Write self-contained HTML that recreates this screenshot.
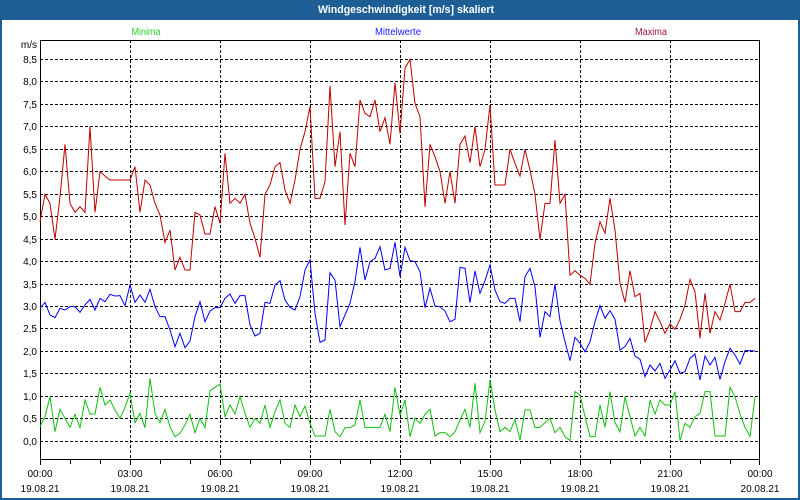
<!DOCTYPE html>
<html><head><meta charset="utf-8"><style>
html,body{margin:0;padding:0;background:#fff;}
svg{display:block;}
text{font-family:"Liberation Sans",sans-serif;}
</style></head><body>
<svg width="800" height="500" viewBox="0 0 800 500" xmlns="http://www.w3.org/2000/svg">
<rect x="0" y="0" width="800" height="500" fill="#1d5e95"/>
<rect x="2" y="20" width="796" height="478" fill="#ffffff"/>
<text x="406" y="13" fill="#ffffff" font-size="11" font-weight="bold" text-anchor="middle" textLength="176" lengthAdjust="spacingAndGlyphs">Windgeschwindigkeit [m/s] skaliert</text>
<text x="146" y="35" fill="#2ec82e" font-size="10" text-anchor="middle" textLength="29" lengthAdjust="spacingAndGlyphs">Minima</text>
<text x="398" y="35" fill="#1a1aff" font-size="10" text-anchor="middle" textLength="46" lengthAdjust="spacingAndGlyphs">Mittelwerte</text>
<text x="651" y="35" fill="#a0104a" font-size="10" text-anchor="middle" textLength="32" lengthAdjust="spacingAndGlyphs">Maxima</text>

<g stroke="#000" stroke-width="1" stroke-dasharray="3,2" shape-rendering="crispEdges" fill="none">
<path d="M40 59.5H760M40 81.5H760M40 104.5H760M40 126.5H760M40 149.5H760M40 171.5H760M40 194.5H760M40 216.5H760M40 239.5H760M40 261.5H760M40 284.5H760M40 306.5H760M40 328.5H760M40 351.5H760M40 373.5H760M40 396.5H760M40 418.5H760M40 441.5H760"/>
<path d="M130.5 40V460M220.5 40V460M310.5 40V460M400.5 40V460M490.5 40V460M580.5 40V460M670.5 40V460"/>
</g>
<rect x="40.5" y="40.5" width="719" height="419" fill="none" stroke="#000" stroke-width="1" shape-rendering="crispEdges"/>
<path d="M40.5 460V465M70.5 460V464M100.5 460V464M130.5 460V465M160.5 460V464M190.5 460V464M220.5 460V465M250.5 460V464M280.5 460V464M310.5 460V465M340.5 460V464M370.5 460V464M400.5 460V465M430.5 460V464M460.5 460V464M490.5 460V465M520.5 460V464M550.5 460V464M580.5 460V465M610.5 460V464M640.5 460V464M670.5 460V465M700.5 460V464M730.5 460V464M759.5 460V465" stroke="#000" stroke-width="1" shape-rendering="crispEdges"/>

<g font-size="10" fill="#000" text-anchor="end">
<text x="37" y="48">m/s</text>
<text x="37" y="63">8,5</text>
<text x="37" y="85">8,0</text>
<text x="37" y="108">7,5</text>
<text x="37" y="130">7,0</text>
<text x="37" y="153">6,5</text>
<text x="37" y="175">6,0</text>
<text x="37" y="198">5,5</text>
<text x="37" y="220">5,0</text>
<text x="37" y="243">4,5</text>
<text x="37" y="265">4,0</text>
<text x="37" y="288">3,5</text>
<text x="37" y="310">3,0</text>
<text x="37" y="332">2,5</text>
<text x="37" y="355">2,0</text>
<text x="37" y="377">1,5</text>
<text x="37" y="400">1,0</text>
<text x="37" y="422">0,5</text>
<text x="37" y="445">0,0</text>
</g>
<g font-size="10" fill="#000" text-anchor="middle">
<text x="40" y="477">00:00</text><text x="40" y="492">19.08.21</text>
<text x="130" y="477">03:00</text><text x="130" y="492">19.08.21</text>
<text x="220" y="477">06:00</text><text x="220" y="492">19.08.21</text>
<text x="310" y="477">09:00</text><text x="310" y="492">19.08.21</text>
<text x="400" y="477">12:00</text><text x="400" y="492">19.08.21</text>
<text x="490" y="477">15:00</text><text x="490" y="492">19.08.21</text>
<text x="580" y="477">18:00</text><text x="580" y="492">19.08.21</text>
<text x="670" y="477">21:00</text><text x="670" y="492">19.08.21</text>
<text x="760" y="477">00:00</text><text x="760" y="492">20.08.21</text>
</g>

<g transform="matrix(5,0,0,0.333333,40,50)" fill="none" stroke-width="1">
<polyline vector-effect="non-scaling-stroke" stroke="#c00000" points="0,515 1,433 2,460 3,568 4,440 5,283 6,460 7,487 8,470 9,487 10,230 11,487 12,365 13,378 14,390 15,390 16,390 17,390 18,390 19,350 20,487 21,390 22,405 23,460 24,495 25,578 26,540 27,660 28,622 29,660 30,660 31,487 32,495 33,552 34,552 35,470 36,520 37,310 38,460 39,445 40,460 41,433 42,520 43,565 44,622 45,433 46,405 47,350 48,338 49,420 50,460 51,390 52,298 53,245 54,170 55,445 56,445 57,395 58,108 59,350 60,245 61,525 62,310 63,350 64,150 65,190 66,200 67,150 68,245 69,203 70,283 71,98 72,250 73,55 74,28 75,160 76,200 77,470 78,283 79,320 80,365 81,460 82,365 83,460 84,283 85,258 86,338 87,230 88,350 89,298 90,165 91,405 92,405 93,405 94,298 95,340 96,378 97,298 98,360 99,433 100,568 101,460 102,460 103,270 104,460 105,433 106,676 107,662 108,676 109,685 110,703 111,580 112,515 113,550 114,445 115,540 116,700 117,757 118,662 119,740 120,730 121,877 122,838 123,785 124,815 125,850 126,822 127,838 128,808 129,765 130,688 131,725 132,865 133,730 134,850 135,785 136,810 137,760 138,703 139,785 140,785 141,757 142,757 143,745"/>
<polyline vector-effect="non-scaling-stroke" stroke="#0000ff" points="0,775 1,757 2,795 3,803 4,775 5,780 6,770 7,770 8,787 9,765 10,748 11,780 12,745 13,755 14,733 15,738 16,737 17,767 18,705 19,757 20,735 21,757 22,718 23,770 24,800 25,800 26,840 27,890 28,850 29,893 30,873 31,800 32,755 33,815 34,783 35,773 36,773 37,745 38,732 39,760 40,737 41,737 42,825 43,858 44,850 45,757 46,760 47,705 48,692 49,750 50,772 51,780 52,740 53,660 54,630 55,790 56,877 57,870 58,668 59,690 60,830 61,795 62,760 63,695 64,592 65,690 66,635 67,625 68,590 69,660 70,655 71,577 72,680 73,592 74,632 75,635 76,665 77,773 78,715 79,768 80,770 81,783 82,815 83,808 84,652 85,655 86,758 87,663 88,730 89,692 90,645 91,720 92,755 93,760 94,745 95,745 96,815 97,680 98,655 99,710 100,862 101,785 102,800 103,703 104,812 105,875 106,932 107,862 108,880 109,905 110,875 111,815 112,767 113,805 114,782 115,808 116,900 117,890 118,865 119,918 120,928 121,980 122,945 123,963 124,940 125,985 126,960 127,932 128,970 129,965 130,925 131,912 132,990 133,918 134,945 135,922 136,988 137,935 138,895 139,915 140,942 141,902 142,902 143,903"/>
<polyline vector-effect="non-scaling-stroke" stroke="#10c010" points="0,1130 1,1100 2,1040 3,1145 4,1078 5,1105 6,1132 7,1093 8,1133 9,1050 10,1092 11,1092 12,1012 13,1065 14,1050 15,1080 16,1105 17,1072 18,1030 19,1118 20,1090 21,1133 22,985 23,1090 24,1118 25,1078 26,1130 27,1160 28,1150 29,1125 30,1093 31,1148 32,1105 33,1133 34,1022 35,1012 36,1002 37,1100 38,1065 39,1092 40,1040 41,1090 42,1132 43,1105 44,1120 45,1065 46,1132 47,1085 48,1050 49,1120 50,1132 51,1065 52,1100 53,1068 54,1120 55,1158 56,1158 57,1158 58,1078 59,1145 60,1160 61,1133 62,1133 63,1125 64,1050 65,1132 66,1132 67,1132 68,1132 69,1093 70,1145 71,1012 72,1095 73,1050 74,1160 75,1105 76,1120 77,1093 78,1078 79,1158 80,1148 81,1148 82,1160 83,1145 84,1110 85,1078 86,1132 87,1000 88,1148 89,1115 90,990 91,1080 92,1145 93,1132 94,1145 95,1108 96,1170 97,1080 98,1080 99,1132 100,1132 101,1118 102,1105 103,1148 104,1132 105,1160 106,1172 107,1025 108,1035 109,1100 110,1160 111,1160 112,1065 113,1132 114,1025 115,1118 116,1145 117,1040 118,1100 119,1158 120,1132 121,1158 122,1050 123,1092 124,1050 125,1065 126,1065 127,1025 128,1172 129,1120 130,1132 131,1100 132,1090 133,1025 134,1025 135,1158 136,1158 137,1158 138,1012 139,1040 140,1092 141,1132 142,1160 143,1040"/>
</g>
</svg>
</body></html>
